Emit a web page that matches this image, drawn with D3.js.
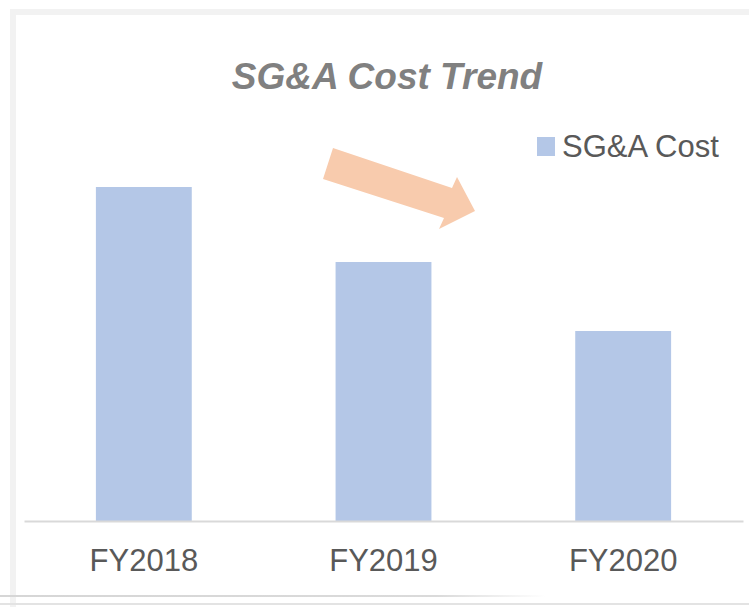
<!DOCTYPE html>
<html>
<head>
<meta charset="utf-8">
<script src="https://cdn.jsdelivr.net/npm/d3@7"></script>
<style>
  html, body { margin: 0; padding: 0; background: #fff; }
  svg { display: block; font-family: "Liberation Sans", Arial, sans-serif; }
</style>
</head>
<body>
<div id="chart"></div>
<script>
// data
const categories = ['FY2018', 'FY2019', 'FY2020'];
const sgaCost = [334, 259, 190];
const seriesName = 'SG&A Cost';
const titleText = 'SG&A Cost Trend';

const W = 749, H = 607;
const margin = { left: 24, right: 6, top: 121, baseline: 521 };

const svg = d3.select('#chart')
  .append('svg')
  .attr('width', W)
  .attr('height', H);

// window frame (light gray bands around the chart area)
svg.append('rect').attr('x', 10).attr('y', 9).attr('width', W - 10).attr('height', 6).attr('fill', '#f2f2f2');
svg.append('rect').attr('x', 10).attr('y', 9).attr('width', 6).attr('height', H - 9).attr('fill', '#f2f2f2');

const grad = svg.append('defs').append('linearGradient')
  .attr('id', 'fade').attr('x1', '0%').attr('x2', '100%');
grad.append('stop').attr('offset', '0%').attr('stop-color', '#d6d6d6');
grad.append('stop').attr('offset', '80%').attr('stop-color', '#dadada');
grad.append('stop').attr('offset', '100%').attr('stop-color', '#ffffff');
svg.append('rect').attr('x', 0).attr('y', 595).attr('width', 546).attr('height', 2).attr('fill', 'url(#fade)');
svg.append('rect').attr('x', 0).attr('y', 603).attr('width', W).attr('height', 2).attr('fill', '#e3e3e3');

// scales
const x = d3.scaleBand()
  .domain(categories)
  .range([margin.left, W - margin.right])
  .paddingInner(0.6)
  .paddingOuter(0.3);

const y = d3.scaleLinear()
  .domain([0, 400])
  .range([margin.baseline, margin.top]);

// bars
svg.selectAll('.bar')
  .data(categories)
  .enter().append('rect')
  .attr('class', 'bar')
  .attr('x', d => x(d))
  .attr('y', (d, i) => y(sgaCost[i]))
  .attr('width', x.bandwidth())
  .attr('height', (d, i) => y(0) - y(sgaCost[i]))
  .attr('fill', '#b4c7e7');

// category axis
const xAxis = svg.append('g')
  .attr('transform', 'translate(0,' + y(0) + ')')
  .call(d3.axisBottom(x).tickSize(0).tickPadding(0));
xAxis.select('.domain')
  .attr('stroke', '#d9d9d9')
  .attr('stroke-width', 2);
xAxis.selectAll('text')
  .attr('y', 50)
  .attr('dy', 0)
  .style('font-size', '31px')
  .style('font-family', '"Liberation Sans", Arial, sans-serif')
  .attr('fill', '#595959');

// title
svg.append('text')
  .attr('x', 387)
  .attr('y', 89)
  .attr('text-anchor', 'middle')
  .style('font-size', '37px')
  .style('font-weight', 'bold')
  .style('font-style', 'italic')
  .attr('fill', '#808080')
  .text(titleText);

// legend
const legend = svg.append('g')
  .attr('transform', 'translate(537,137)');
legend.append('rect')
  .attr('width', 18)
  .attr('height', 19)
  .attr('fill', '#b4c7e7');
legend.append('text')
  .attr('x', 25)
  .attr('y', 20)
  .style('font-size', '31px')
  .attr('fill', '#595959')
  .text(seriesName);

// downward trend arrow
svg.append('path')
  .attr('d', 'M333,148 L452,188 L457,177 L475,211 L439,229 L444,218 L323,179 Z')
  .attr('fill', '#f8cbad');
</script>
</body>
</html>
